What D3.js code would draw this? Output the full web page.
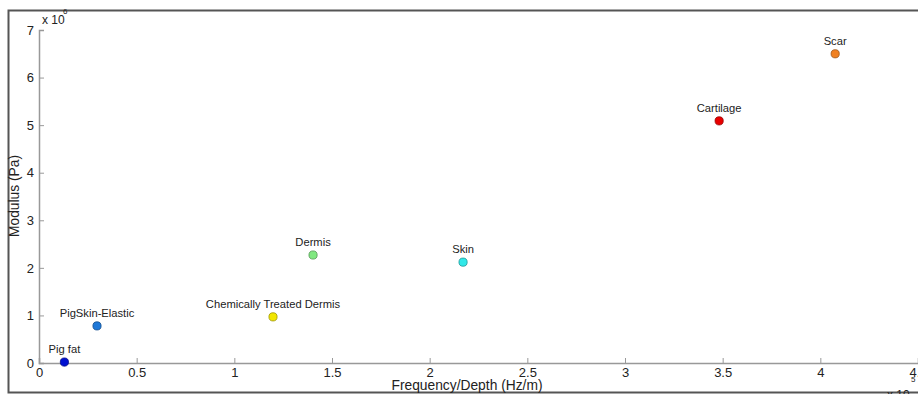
<!DOCTYPE html>
<html>
<head>
<meta charset="utf-8">
<script src="https://cdn.jsdelivr.net/npm/d3@7"></script>
<style>
  body { margin: 0; background: #fff; }
  text { font-family: "Liberation Sans", Arial, sans-serif; }
</style>
</head>
<body>
<div id="chart"></div>
<script>
// Data (x in 1e5 Hz/m, y in 1e6 Pa)
const tissues = ["Pig fat", "PigSkin-Elastic", "Chemically Treated Dermis", "Dermis", "Skin", "Cartilage", "Scar"];
const freqDepth = [0.13, 0.297, 1.198, 1.403, 2.171, 3.482, 4.076];
const modulus = [0.02, 0.78, 0.97, 2.27, 2.12, 5.09, 6.50];
const colors = ["#0010d0", "#1e78d8", "#f2e600", "#80e880", "#30e8e8", "#e80000", "#f08020"];
const xTicks = [0, 0.5, 1, 1.5, 2, 2.5, 3, 3.5, 4, 4.5];
const yTicks = [0, 1, 2, 3, 4, 5, 6, 7];

const width = 918;
const height = 394;

const svg = d3.select("#chart").append("svg")
  .attr("width", width)
  .attr("height", height);

// outer frame (right side is cropped in the original)
svg.append("path")
  .attr("d", "M918,10.5 H8.5 V392.5 H918")
  .attr("fill", "none")
  .attr("stroke", "#555")
  .attr("stroke-width", 2);

const x = d3.scaleLinear().domain([0, 4.5]).range([39, 918]);
const y = d3.scaleLinear().domain([0, 7]).range([363, 30]);

const xAxis = d3.axisBottom(x).tickValues(xTicks).tickSize(-5).tickPadding(7)
  .tickFormat(d3.format("~g"));
const yAxis = d3.axisLeft(y).tickValues(yTicks).tickSize(-5).tickPadding(5)
  .tickFormat(d3.format("~g"));

const gx = svg.append("g").attr("transform", "translate(0,363)").call(xAxis);
const gy = svg.append("g").attr("transform", "translate(39,0)").call(yAxis);

[gx, gy].forEach(g => {
  g.select(".domain").attr("stroke", "#999").attr("stroke-width", 1.5);
  g.selectAll(".tick line").attr("stroke", "#999");
  g.selectAll("text").attr("fill", "#222").style("font-size", "13px")
    .style("font-family", "'Liberation Sans', Arial, sans-serif");
});
gx.selectAll(".tick text").attr("dy", "0.5em");

// exponents
svg.append("text").attr("x", 42).attr("y", 24).attr("font-size", 12).attr("fill", "#222").text("x 10");
svg.append("text").attr("x", 63).attr("y", 14).attr("font-size", 8).attr("fill", "#222").text("6");
svg.append("text").attr("x", 887).attr("y", 399).attr("font-size", 12).attr("fill", "#222").text("x 10");
svg.append("text").attr("x", 911).attr("y", 382).attr("font-size", 8).attr("fill", "#222").text("5");

// axis titles
svg.append("text")
  .attr("x", 467).attr("y", 390)
  .attr("text-anchor", "middle")
  .attr("font-size", 13.8).attr("fill", "#222")
  .text("Frequency/Depth (Hz/m)");

svg.append("text")
  .attr("transform", "translate(19,196) rotate(-90)")
  .attr("text-anchor", "middle")
  .attr("font-size", 13.8).attr("fill", "#222")
  .text("Modulus (Pa)");

// points
const pts = svg.selectAll(".pt")
  .data(tissues.map((t, i) => ({ t, fx: freqDepth[i], m: modulus[i], c: colors[i] })))
  .enter().append("g").attr("class", "pt");

pts.append("circle")
  .attr("cx", d => x(d.fx))
  .attr("cy", d => y(d.m))
  .attr("r", 4.1)
  .attr("fill", d => d.c)
  .attr("stroke", d => d3.color(d.c).darker(1.2))
  .attr("stroke-width", 0.8);

pts.append("text")
  .attr("x", d => x(d.fx))
  .attr("y", d => y(d.m) - 9)
  .attr("text-anchor", "middle")
  .attr("font-size", 11.2)
  .attr("fill", "#222")
  .text(d => d.t);
</script>
</body>
</html>
